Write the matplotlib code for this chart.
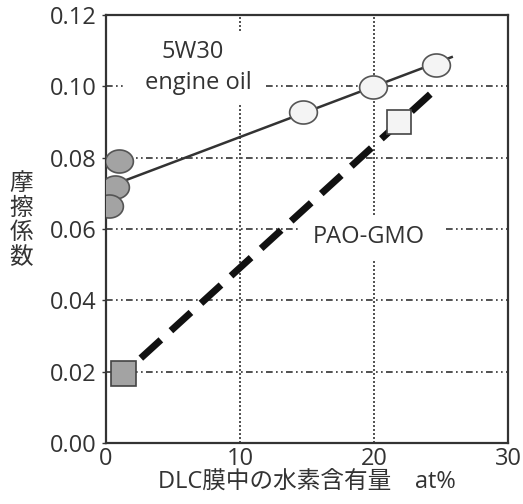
import matplotlib
matplotlib.use("Agg")
import matplotlib.pyplot as plt
import numpy as np
from matplotlib.path import Path
from matplotlib.patches import Rectangle

plt.rcParams['font.family'] = ['Open Sans', 'Noto Sans CJK JP', 'DejaVu Sans']

# data
oil_gray_x = [1.0, 0.7, 0.2]
oil_gray_y = [0.079, 0.0718, 0.0665]
oil_white_x = [14.7, 19.9, 24.6]
oil_white_y = [0.0928, 0.0998, 0.106]
oil_fit_x = [1.2, 25.8]
oil_fit_y = [0.0733, 0.1082]
pao_gray_x = [1.3]
pao_gray_y = [0.0196]
pao_white_x = [21.9]
pao_white_y = [0.090]
pao_fit_x = [2.6, 24.2]
pao_fit_y = [0.0238, 0.0978]
xticks = [0, 10, 20, 30]
yticks = [0.00, 0.02, 0.04, 0.06, 0.08, 0.10, 0.12]

# ellipse marker (wider than tall)
t = np.linspace(0, 2 * np.pi, 60)
ell = Path(np.column_stack([np.cos(t), 0.83 * np.sin(t)]), closed=True)

txt = '#333333'
fs = 17
fig = plt.figure(figsize=(5.23, 5.04), dpi=100)
ax = fig.add_axes([106/523, 1-443/504, (508-106)/523, (443-15)/504])
ax.set_xlim(0, 30)
ax.set_ylim(0, 0.12)

# grid
for y in yticks[1:-1]:
    ax.axhline(y, color='#333333', lw=1.2, ls=(0, (4, 2, 1, 2, 1, 2)), zorder=1)
for x in xticks[1:-1]:
    ax.axvline(x, color='#333333', lw=1.2, ls=(0, (1.2, 1.2)), zorder=1)

# white boxes behind annotations
ax.add_patch(Rectangle((1.4, 0.0948), 10.3, 0.0202, facecolor='white', edgecolor='none', zorder=1.5))
ax.add_patch(Rectangle((14.3, 0.0513), 11.0, 0.0126, facecolor='white', edgecolor='none', zorder=1.5))

ax.plot(oil_fit_x, oil_fit_y, color='#333333', lw=1.8, zorder=3)
ax.plot(pao_fit_x, pao_fit_y, color='#111111', lw=5, ls=(0, (3.9, 1.96)), zorder=3)

ax.plot(oil_gray_x, oil_gray_y, marker=ell, ls='none', ms=20, mfc='#a3a3a3', mec='#555555', mew=1.2, zorder=4)
ax.plot(oil_white_x, oil_white_y, marker=ell, ls='none', ms=20, mfc='#f4f4f4', mec='#555555', mew=1.2, zorder=4)
ax.plot(pao_gray_x, pao_gray_y, 's', ms=18, mfc='#a3a3a3', mec='#444444', mew=1.2, zorder=4)
ax.plot(pao_white_x, pao_white_y, 's', ms=17, mfc='#f4f4f4', mec='#444444', mew=1.2, zorder=4)

ax.text(6.5, 0.1096, '5W30', ha='center', va='center', fontsize=fs, color=txt, zorder=2)
ax.text(6.9, 0.1010, 'engine oil', ha='center', va='center', fontsize=fs, color=txt, zorder=2)
ax.text(19.6, 0.0578, 'PAO-GMO', ha='center', va='center', fontsize=fs, color=txt, zorder=2)

ax.set_xticks(xticks)
ax.set_xticklabels([str(v) for v in xticks])
ax.set_yticks(yticks)
ax.set_yticklabels([f'{v:.2f}' for v in yticks])
ax.tick_params(axis='x', length=0, pad=3, labelsize=fs, colors=txt)
ax.tick_params(axis='y', length=3, width=1, pad=4, labelsize=fs, colors=txt)
for s in ax.spines.values():
    s.set_linewidth(1.6)
    s.set_color('#333333')

ax.set_xlabel('DLC膜中の水素含有量\u3000at%', fontsize=fs, color=txt, labelpad=0)
fig.text(21/523, 1-221/504, '摩\n擦\n係\n数', ha='center', va='center', fontsize=fs,
         color=txt, linespacing=1.05)

fig.savefig('out.png', dpi=100)
